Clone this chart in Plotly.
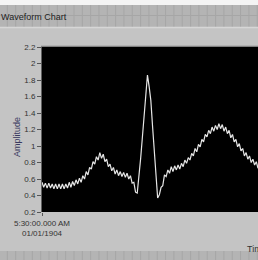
import plotly.graph_objects as go

# ---- data ----
amplitude = [
    0.56, 0.50, 0.55, 0.49, 0.55, 0.49, 0.54, 0.48, 0.54, 0.48,
    0.54, 0.48, 0.54, 0.48, 0.54, 0.49, 0.56, 0.50, 0.57, 0.52,
    0.59, 0.54, 0.61, 0.56, 0.64, 0.60, 0.69, 0.65, 0.74, 0.72,
    0.81, 0.78, 0.87, 0.83, 0.92, 0.85, 0.90, 0.81, 0.84, 0.75,
    0.78, 0.70, 0.74, 0.66, 0.71, 0.64, 0.69, 0.63, 0.68, 0.62,
    0.67, 0.60, 0.64, 0.55, 0.56, 0.44, 0.43, 0.62, 0.85, 1.10,
    1.35, 1.58, 1.86, 1.72, 1.55, 1.24, 0.91, 0.57, 0.37, 0.41,
    0.50, 0.52, 0.65, 0.63, 0.71, 0.67, 0.75, 0.69, 0.76, 0.71,
    0.77, 0.72, 0.79, 0.75, 0.83, 0.79, 0.86, 0.83, 0.91, 0.88,
    0.97, 0.93, 1.02, 0.99, 1.08, 1.05, 1.14, 1.11, 1.19, 1.15,
    1.23, 1.18, 1.25, 1.20, 1.27, 1.21, 1.26, 1.18, 1.23, 1.15,
    1.19, 1.10, 1.14, 1.05, 1.08, 0.99, 1.03, 0.94, 0.97, 0.88,
    0.92, 0.84, 0.88, 0.80, 0.84, 0.77, 0.81, 0.73,
]
samples = list(range(len(amplitude)))
y_ticks = [0.2, 0.4, 0.6, 0.8, 1.0, 1.2, 1.4, 1.6, 1.8, 2.0, 2.2]
x_tick_vals = [0]
x_tick_text = ["5:30:00.000 AM<br>01/01/1904"]

W, H = 258, 260
L, R, T, B = 42, 0, 47, 48
PW, PH = W - L - R, H - T - B

def px(x):
    return (x - L) / PW

def py(y):
    return (H - B - y) / PH

FONT = "Liberation Sans"

fig = go.Figure()
fig.add_trace(go.Scatter(
    x=samples, y=amplitude, mode="lines",
    line=dict(color="#e6e6e6", width=1.2),
    hoverinfo="skip", showlegend=False,
))

shapes = []
# white top strip
shapes.append(dict(type="rect", xref="paper", yref="paper", x0=px(0), x1=px(W), y0=py(0), y1=py(5),
                   fillcolor="#f4f4f4", line=dict(width=0), layer="below"))
# grid strips (top and bottom)
for (ya, yb) in [(5, 27), (251, 261)]:
    shapes.append(dict(type="rect", xref="paper", yref="paper", x0=px(0), x1=px(W), y0=py(ya), y1=py(yb),
                       fillcolor="#b4b4b4", line=dict(width=0), layer="below"))
    gx = -1.0
    while gx < W:
        shapes.append(dict(type="line", xref="paper", yref="paper", x0=px(gx), x1=px(gx),
                           y0=py(ya), y1=py(yb), line=dict(color="#a6a6a6", width=1), layer="below"))
        gx += 8.33
for gy in [15.5]:
    shapes.append(dict(type="line", xref="paper", yref="paper", x0=px(0), x1=px(W),
                       y0=py(gy), y1=py(gy), line=dict(color="#a6a6a6", width=1), layer="below"))
# light edge under top strip
shapes.append(dict(type="line", xref="paper", yref="paper", x0=px(0), x1=px(W), y0=py(27.5), y1=py(27.5),
                   line=dict(color="#d6d6d6", width=1.5), layer="below"))
# dark line above plot area
shapes.append(dict(type="line", xref="paper", yref="paper", x0=px(L - 1), x1=px(W), y0=py(46.3), y1=py(46.3),
                   line=dict(color="#707070", width=1), layer="below"))

fig.update_layout(
    width=W, height=H,
    margin=dict(l=L, r=R, t=T, b=B, pad=0),
    paper_bgcolor="#c4c4c4",
    plot_bgcolor="#000000",
    shapes=shapes,
    font=dict(family=FONT, size=8, color="#333333"),
    xaxis=dict(
        range=[0, len(amplitude) - 1],
        tickvals=x_tick_vals, ticktext=x_tick_text,
        ticks="outside", ticklen=3, tickcolor="#555555",
        showgrid=False, zeroline=False, showline=False,
        tickfont=dict(family=FONT, size=8, color="#333333"),
    ),
    yaxis=dict(
        range=[0.2, 2.2], tickvals=y_ticks,
        ticks="outside", ticklen=4, tickcolor="#555555",
        showgrid=False, zeroline=False,
        showline=True, linecolor="#606060", linewidth=1,
        tickfont=dict(family=FONT, size=8, color="#333333"),
    ),
    annotations=[
        dict(text="Waveform Chart", xref="paper", yref="paper", x=px(-1.5), y=py(17),
             xanchor="left", yanchor="middle", showarrow=False,
             font=dict(family=FONT, size=9, color="#222222")),
        dict(text="Amplitude", xref="paper", yref="paper", x=px(17), y=py(137),
             xanchor="center", yanchor="middle", showarrow=False, textangle=-90,
             font=dict(family=FONT, size=9, color="#3a3a60")),
        dict(text="Time", xref="paper", yref="paper", x=px(245), y=py(249),
             xanchor="left", yanchor="middle", showarrow=False,
             font=dict(family=FONT, size=9, color="#333333")),
    ],
)

fig.write_html(
    "out.html",
    config={"displayModeBar": False, "staticPlot": True},
    post_script="document.body.style.margin='0';document.body.style.overflow='hidden';",
)
